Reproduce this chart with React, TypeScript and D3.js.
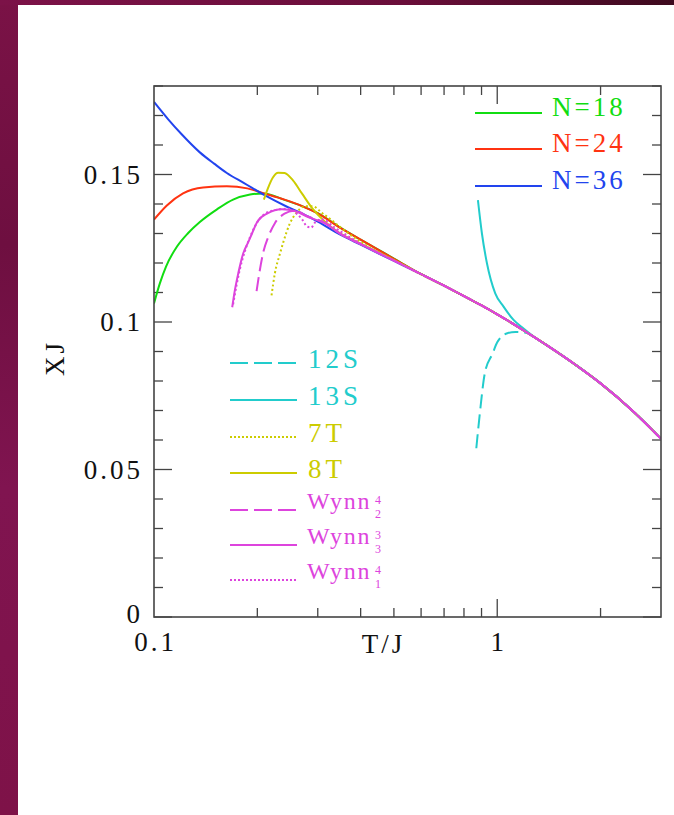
import React from "react";
import * as d3 from "d3";

type Pt = [number, number];

// shared high-temperature part (all series coincide here)
const MID: Pt[] = [[0.6, 0.1162], [0.7, 0.1123], [0.8, 0.1088], [0.9, 0.1056], [1.0, 0.1026], [1.2, 0.097], [1.4, 0.092]];
const TAIL: Pt[] = [[1.7, 0.0853], [2.0, 0.0792], [2.5, 0.0695], [3.0, 0.0604]];

const N18: Pt[] = [[0.1, 0.1063], [0.104, 0.1131], [0.1084, 0.1188], [0.1167, 0.1256], [0.1256, 0.1301], [0.136, 0.1339], [0.1526, 0.1382], [0.17, 0.1415], [0.1905, 0.1432], [0.208, 0.1436], [0.24, 0.1414], [0.27, 0.1393], [0.3, 0.1369], [0.35, 0.1319], [0.4, 0.1279], [0.5, 0.1215]];
const N24: Pt[] = [[0.1, 0.1347], [0.109, 0.1395], [0.1215, 0.1436], [0.139, 0.1456], [0.163, 0.146], [0.187, 0.1453], [0.208, 0.1437], [0.24, 0.1415], [0.27, 0.1393], [0.3, 0.1368], [0.35, 0.1318], [0.4, 0.1279], [0.5, 0.1214]];
const N36: Pt[] = [[0.1, 0.1746], [0.11, 0.1687], [0.12, 0.1638], [0.136, 0.1575], [0.15, 0.1536], [0.163, 0.1505], [0.183, 0.1471], [0.21, 0.143], [0.24, 0.1395], [0.27, 0.1368], [0.3, 0.134], [0.35, 0.1295], [0.4, 0.1262], [0.5, 0.1207]];
const S12: Pt[] = [[0.869, 0.0572], [0.89, 0.0691], [0.92, 0.0826], [0.97, 0.0894], [1.0, 0.0931], [1.07, 0.0962], [1.13, 0.0966], [1.22, 0.0963], [1.3, 0.0944], [1.4, 0.092]];
const S13: Pt[] = [[0.8785, 0.1413], [0.9024, 0.13], [0.9333, 0.1199], [0.9867, 0.1097], [1.0433, 0.1052], [1.1156, 0.1007], [1.193, 0.0978], [1.3, 0.0944], [1.4, 0.092]];
const T7: Pt[] = [[0.22, 0.109], [0.225, 0.1165], [0.233, 0.1233], [0.238, 0.127], [0.249, 0.1335], [0.26, 0.137], [0.275, 0.1392], [0.29, 0.1392], [0.31, 0.1368], [0.33, 0.1344], [0.353, 0.1317], [0.4, 0.1272], [0.5, 0.121]];
const T8: Pt[] = [[0.209, 0.1415], [0.215, 0.1455], [0.222, 0.149], [0.23, 0.1506], [0.24, 0.1505], [0.254, 0.148], [0.27, 0.1435], [0.288, 0.1388], [0.315, 0.134], [0.344, 0.1305], [0.4, 0.1266], [0.5, 0.121]];
const W24: Pt[] = [[0.199, 0.1105], [0.203, 0.117], [0.208, 0.1235], [0.215, 0.1287], [0.225, 0.1335], [0.24, 0.1367], [0.257, 0.1377], [0.281, 0.1358], [0.315, 0.1336], [0.35, 0.1298], [0.4, 0.1264], [0.5, 0.1208]];
const W33: Pt[] = [[0.169, 0.105], [0.172, 0.1107], [0.176, 0.1165], [0.182, 0.1233], [0.188, 0.127], [0.193, 0.13], [0.2, 0.134], [0.214, 0.1368], [0.236, 0.1382], [0.257, 0.1376], [0.281, 0.1356], [0.315, 0.1334], [0.35, 0.1298], [0.4, 0.1264], [0.5, 0.1208]];
const W14: Pt[] = [[0.17, 0.106], [0.174, 0.1125], [0.178, 0.118], [0.184, 0.124], [0.19, 0.1285], [0.197, 0.1325], [0.207, 0.136], [0.222, 0.1378], [0.246, 0.1384], [0.26, 0.1368], [0.27, 0.1348], [0.279, 0.1324], [0.287, 0.132], [0.295, 0.1338], [0.309, 0.1348], [0.336, 0.132], [0.4, 0.1266], [0.5, 0.1209]];

const X_LABELS: [number, string][] = [[0.1, "0.1"], [1, "1"]];
const Y_LABELS: [number, string][] = [[0, "0"], [0.05, "0.05"], [0.1, "0.1"], [0.15, "0.15"]];
const X_TICKS = [0.2, 0.3, 0.4, 0.5, 0.6, 0.7, 0.8, 0.9, 1, 2];
const X_MAJOR = [1];

const C = {
  green: "#11dd11",
  red: "#ff3311",
  blue: "#2244ee",
  cyan: "#22cccc",
  yellow: "#cccc00",
  magenta: "#dd44dd",
};

const FONT = "'Liberation Serif', 'Times New Roman', serif";

export default function App() {
  const W = 674, H = 815;
  const L = 154, R = 661, T = 86, B = 617;
  const x = d3.scaleLog().domain([0.1, 3]).range([L, R]);
  const y = d3.scaleLinear().domain([0, 0.18]).range([B, T]);
  const line = d3
    .line<Pt>()
    .x((d) => x(d[0]))
    .y((d) => y(d[1]))
    .curve(d3.curveMonotoneX);

  const full = (a: Pt[], mid: boolean) => (mid ? a.concat(MID, TAIL) : a.concat(TAIL));

  const series = [
    { d: full(N18, true), c: C.green, dash: undefined },
    { d: full(N24, true), c: C.red, dash: undefined },
    { d: full(N36, true), c: C.blue, dash: undefined },
    { d: full(S12, false), c: C.cyan, dash: "14 6" },
    { d: full(S13, false), c: C.cyan, dash: undefined },
    { d: full(T7, true), c: C.yellow, dash: "2 2.5" },
    { d: full(T8, true), c: C.yellow, dash: undefined },
    { d: full(W24, true), c: C.magenta, dash: "14 6" },
    { d: full(W33, true), c: C.magenta, dash: undefined },
    { d: full(W14, true), c: C.magenta, dash: "2 2.5" },
  ];

  const yTicks = d3.range(0, 19).map((i) => i / 100);
  const axisColor = "#444";
  const FS = 27;
  const LS = 3;

  const topLegend = [
    { label: "N=18", c: C.green, y: 113 },
    { label: "N=24", c: C.red, y: 149 },
    { label: "N=36", c: C.blue, y: 186 },
  ];
  const lowLegend = [
    { label: "12S", c: C.cyan, y: 363, dash: "18 6" },
    { label: "13S", c: C.cyan, y: 400, dash: undefined },
    { label: "7T", c: C.yellow, y: 437, dash: "2 2" },
    { label: "8T", c: C.yellow, y: 473, dash: undefined },
  ];
  const wynnLegend = [
    { sup: "4", sub: "2", y: 510, dash: "18 6" },
    { sup: "3", sub: "3", y: 545, dash: undefined },
    { sup: "4", sub: "1", y: 580, dash: "2 2" },
  ];

  return (
    <div style={{ position: "absolute", left: 0, top: 0, width: W, height: H }}>
      <svg width={W} height={H} style={{ display: "block" }}>
        <defs>
          <linearGradient id="topbar" x1="0" x2="1" y1="0" y2="0">
            <stop offset="0" stopColor="#7c1248" />
            <stop offset="0.6" stopColor="#6a0e3a" />
            <stop offset="1" stopColor="#3e0a1e" />
          </linearGradient>
          <linearGradient id="sidebar" x1="0" x2="0" y1="0" y2="1">
            <stop offset="0" stopColor="#7a1246" />
            <stop offset="0.3" stopColor="#6e0f40" />
            <stop offset="0.6" stopColor="#801450" />
            <stop offset="1" stopColor="#7e1248" />
          </linearGradient>
          <clipPath id="plotclip">
            <rect x={L} y={T} width={R - L} height={B - T} />
          </clipPath>
        </defs>
        <rect x={0} y={0} width={W} height={H} fill="url(#sidebar)" />
        <rect x={0} y={0} width={W} height={5} fill="url(#topbar)" />
        <rect x={18} y={5} width={W - 18} height={H - 5} fill="#ffffff" />

        {/* ticks */}
        <g stroke={axisColor} strokeWidth={1.3}>
          {yTicks.map((v, i) => {
            const major = i % 5 === 0;
            const len = major ? 18 : 9;
            return (
              <g key={"yt" + i}>
                <line x1={L} x2={L + len} y1={y(v)} y2={y(v)} />
                <line x1={R} x2={R - len} y1={y(v)} y2={y(v)} />
              </g>
            );
          })}
          {X_TICKS.map((v, i) => {
            const len = X_MAJOR.includes(v) ? 18 : 9;
            return (
              <g key={"xt" + i}>
                <line x1={x(v)} x2={x(v)} y1={B} y2={B - len} />
                <line x1={x(v)} x2={x(v)} y1={T} y2={T + len} />
              </g>
            );
          })}
        </g>

        {/* curves */}
        <g clipPath="url(#plotclip)" fill="none" strokeWidth={2} strokeLinejoin="round">
          {series.map((s, i) => (
            <path key={i} d={line(s.d) || ""} stroke={s.c} strokeDasharray={s.dash} />
          ))}
        </g>

        <rect x={L} y={T} width={R - L} height={B - T} fill="none" stroke={axisColor} strokeWidth={1.6} />

        {/* axis labels */}
        <g fontFamily={FONT} fontSize={FS} fill="#111" letterSpacing={LS}>
          {Y_LABELS.map(([v, t]) => (
            <text key={t} x={140 + LS} y={y(v) + (v === 0 ? 6 : 9)} textAnchor="end">{t}</text>
          ))}
          {X_LABELS.map(([v, t]) => (
            <text key={t} x={x(v) + LS / 2} y={651} textAnchor="middle">{t}</text>
          ))}
          <text x={382 + LS / 2} y={653} textAnchor="middle">T/J</text>
          <text transform="translate(64,358) rotate(-90)" textAnchor="middle">XJ</text>
        </g>

        {/* top legend */}
        <g fontFamily={FONT} fontSize={FS} letterSpacing={LS}>
          {topLegend.map((l) => (
            <g key={l.label}>
              <line x1={475} x2={542} y1={l.y} y2={l.y} stroke={l.c} strokeWidth={2} />
              <text x={552} y={l.y + 3} fill={l.c}>{l.label}</text>
            </g>
          ))}
        </g>

        {/* lower legend */}
        <g fontFamily={FONT} fontSize={FS} letterSpacing={LS + 1}>
          {lowLegend.map((l) => (
            <g key={l.label}>
              <line x1={230} x2={297} y1={l.y} y2={l.y} stroke={l.c} strokeWidth={2} strokeDasharray={l.dash} />
              <text x={308} y={l.y + 5} fill={l.c}>{l.label}</text>
            </g>
          ))}
          {wynnLegend.map((l, i) => (
            <g key={"w" + i} fill={C.magenta}>
              <line x1={230} x2={297} y1={l.y} y2={l.y} stroke={C.magenta} strokeWidth={2} strokeDasharray={l.dash} />
              <text x={307} y={l.y - 1} fontSize={24} letterSpacing={1.8}>Wynn</text>
              <text x={375} y={l.y - 6} fontSize={12} letterSpacing={0}>{l.sup}</text>
              <text x={375} y={l.y + 8} fontSize={12} letterSpacing={0}>{l.sub}</text>
            </g>
          ))}
        </g>
      </svg>
    </div>
  );
}
